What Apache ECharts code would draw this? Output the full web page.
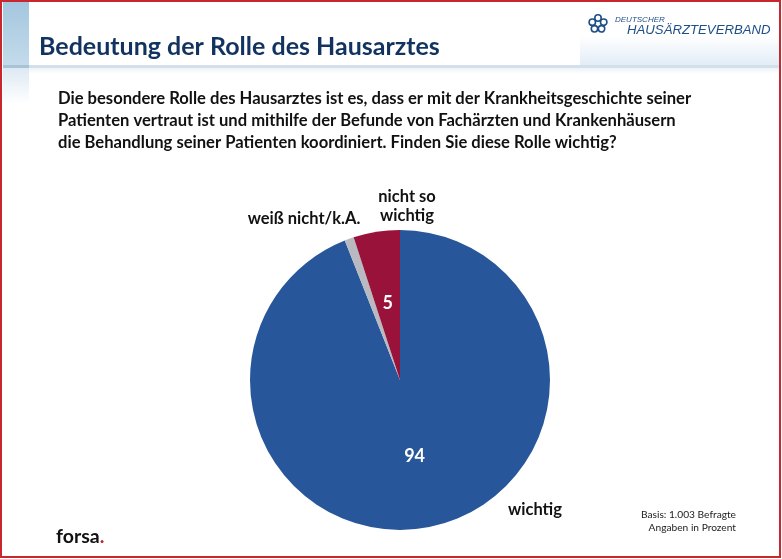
<!DOCTYPE html>
<html lang="de">

<head>
  <meta charset="UTF-8">
  <title>Bedeutung der Rolle des Hausarztes</title>
  <style>
    html, body { margin: 0; padding: 0; background: #fff; }
  </style>
</head>

<body>
  <div id="main" style="width:782px;height:559px;"></div>

  <script src="https://cdn.jsdelivr.net/npm/echarts@6/dist/echarts.min.js"></script>
  <script>
    var categories = ['wichtig', 'weiß nicht/k.A.', 'nicht so\nwichtig']
    var values = [94, 1, 5]
    var sliceColors = ['#27569b', '#b9b9c1', '#99123a']
    var valueLabels = ['94', '', '5']
    var questionLines = [
      'Die besondere Rolle des Hausarztes ist es, dass er mit der Krankheitsgeschichte seiner',
      'Patienten vertraut ist und mithilfe der Befunde von Fachärzten und Krankenhäusern',
      'die Behandlung seiner Patienten koordiniert. Finden Sie diese Rolle wichtig?'
    ]

    var fontName = 'Lato, sans-serif'
    var myChart = echarts.init(document.getElementById('main'), null, { renderer: 'canvas' })

    // where the category names sit around the pie, same order as categories
    var namePos = [[535, 510], [304, 219], [407, 206]]

    var pieData = categories.map(function (name, i) {
      return { name: name, value: values[i], itemStyle: { color: sliceColors[i] } }
    })

    var logoDots = []
    for (var k = 0; k < 5; k++) {
      var a = k * Math.PI * 2 / 5 - Math.PI / 2
      logoDots.push({
        type: 'circle',
        z: 5,
        shape: { cx: 598 + Math.cos(a) * 6, cy: 24 + Math.sin(a) * 6, r: 3.2 },
        style: { fill: '#fff', stroke: '#1d4f86', lineWidth: 1.6 }
      })
    }

    var options = {
      animation: false,
      backgroundColor: '#fff',
      graphic: [
        // left strip
        {
          type: 'rect', z: 1, shape: { x: 3, y: 2, width: 26, height: 64 },
          style: {
            fill: new echarts.graphic.LinearGradient(0, 0, 0, 1, [
              { offset: 0, color: '#a4c6de' }, { offset: 1, color: '#c4dbeb' }
            ])
          }
        },
        {
          type: 'rect', z: 1, shape: { x: 3, y: 66, width: 26, height: 38 },
          style: {
            fill: new echarts.graphic.LinearGradient(0, 0, 0, 1, [
              { offset: 0, color: '#dbe8f2' }, { offset: 1, color: '#ffffff' }
            ])
          }
        },
        // soft box behind the logo
        {
          type: 'rect', z: 1, shape: { x: 580, y: 36, width: 199, height: 29 },
          style: {
            fill: new echarts.graphic.LinearGradient(0, 0, 0, 1, [
              { offset: 0, color: '#ffffff' }, { offset: 1, color: '#e2edf7' }
            ])
          }
        },
        // header rule
        {
          type: 'rect', z: 2, shape: { x: 29, y: 65, width: 750, height: 3 },
          style: { fill: '#d3e0ea' }
        },
        {
          type: 'rect', z: 2, shape: { x: 3, y: 65, width: 26, height: 3 },
          style: { fill: '#a9c3d6' }
        },
        {
          type: 'rect', z: 2, shape: { x: 29, y: 68, width: 750, height: 6 },
          style: {
            fill: new echarts.graphic.LinearGradient(0, 0, 0, 1, [
              { offset: 0, color: '#edf3f8' }, { offset: 1, color: '#ffffff' }
            ])
          }
        },
        // title
        {
          type: 'text', z: 3, left: 39, top: 34,
          style: { text: 'Bedeutung der Rolle des Hausarztes', fill: '#12335f', font: 'bold 25px ' + fontName }
        },
        // question
        {
          type: 'text', z: 3, left: 58, top: 88,
          style: { text: questionLines.join('\n'), fill: '#111', font: 'bold 16.6px ' + fontName, lineHeight: 22 }
        },
        // logo
        {
          type: 'text', z: 3, left: 615, top: 16,
          style: { text: 'DEUTSCHER', fill: '#1d4f86', font: 'italic 8px "Liberation Sans"' }
        },
        {
          type: 'text', z: 3, left: 627, top: 24,
          style: { text: 'HAUSÄRZTEVERBAND', fill: '#1d4f86', font: 'italic 13.2px "Liberation Sans"' }
        },
        { type: 'group', children: logoDots },
        // footer
        {
          type: 'text', z: 3, left: 56, top: 527,
          style: {
            text: '{a|forsa}{b|.}',
            rich: {
              a: { fill: '#111', font: 'bold 19.5px ' + fontName },
              b: { fill: '#c8202c', font: 'bold 19.5px ' + fontName }
            }
          }
        },
        {
          type: 'text', z: 3, x: 736, y: 508,
          style: {
            text: 'Basis: 1.003 Befragte\nAngaben in Prozent',
            fill: '#222', font: '10.2px ' + fontName, lineHeight: 13, align: 'right'
          }
        },
        // red frame
        {
          type: 'rect', z: 10, shape: { x: 1, y: 1, width: 779, height: 556 },
          style: { fill: 'none', stroke: '#c8282d', lineWidth: 2 }
        }
      ],
      series: [
        {
          type: 'pie',
          center: [400, 380],
          radius: [0, 150],
          startAngle: 90,
          clockwise: true,
          silent: true,
          z: 4,
          data: pieData,
          labelLine: { show: false },
          label: {
            show: true,
            position: 'inside',
            color: '#fff',
            fontFamily: fontName,
            fontWeight: 'bold',
            fontSize: 18,
            formatter: function (p) { return valueLabels[p.dataIndex] }
          }
        },
        {
          // invisible copy, only carries the category names
          type: 'pie',
          center: [400, 380],
          radius: [0, 150],
          startAngle: 90,
          clockwise: true,
          silent: true,
          z: 5,
          data: categories.map(function (name, i) {
            return { name: name, value: values[i], itemStyle: { color: 'rgba(0,0,0,0)' } }
          }),
          labelLine: { show: false },
          label: {
            show: true,
            position: 'outside',
            color: '#111',
            fontFamily: fontName,
            fontWeight: 'bold',
            fontSize: 16.5,
            lineHeight: 19,
            formatter: '{b}'
          },
          labelLayout: function (p) {
            var pos = namePos[p.dataIndex]
            return { x: pos[0], y: pos[1], align: 'center', verticalAlign: 'middle' }
          }
        }
      ]
    }
    myChart.setOption(options)
  </script>
</body>

</html>
